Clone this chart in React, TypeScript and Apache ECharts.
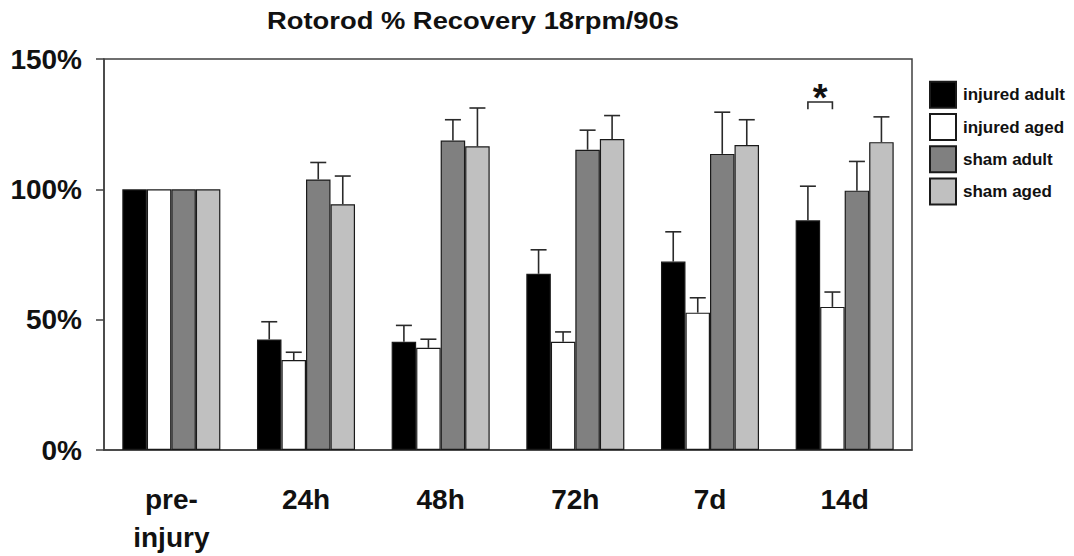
import React, { useEffect, useRef } from "react";
import * as echarts from "echarts";

// Time points after injury
const categories = ["pre-\ninjury", "24h", "48h", "72h", "7d", "14d"];

// Mean rotarod performance (% of pre-injury baseline)
const injuredAdult = [100, 42.4, 41.5, 67.6, 72.3, 88.1];
const injuredAged = [100, 34.5, 39.2, 41.5, 52.7, 54.9];
const shamAdult = [100, 103.8, 118.7, 115.2, 113.6, 99.5];
const shamAged = [100, 94.3, 116.5, 119.3, 117.0, 118.1];

// Standard error (upward whiskers only)
const injuredAdultErr = [0, 6.8, 6.3, 9.2, 11.4, 13.1];
const injuredAgedErr = [0, 3.0, 3.3, 3.8, 5.7, 5.7];
const shamAdultErr = [0, 6.5, 8.0, 7.5, 16.0, 11.2];
const shamAgedErr = [0, 10.8, 14.7, 9.0, 9.7, 9.7];

const seriesNames = ["injured adult", "injured aged", "sham adult", "sham aged"];
const yTicks = [0, 50, 100, 150];

// Significance marker: [category index, left bar, right bar, bracket top, leg bottom]
const significance = [[5, 0, 1, 133.5, 130.7]];

const FONT = "'Liberation Sans', Arial, sans-serif";
const CAT_GAP = 0.272;

export default function App() {
  const ref = useRef<HTMLDivElement>(null);

  useEffect(() => {
    if (!ref.current) return;
    const chart = echarts.init(ref.current, undefined, { renderer: "svg" });

    const means = [injuredAdult, injuredAged, shamAdult, shamAged];
    const errs = [injuredAdultErr, injuredAgedErr, shamAdultErr, shamAgedErr];
    const colors = ["#000000", "#ffffff", "#808080", "#c0c0c0"];

    const errData: number[][] = [];
    means.forEach((arr, k) => {
      arr.forEach((v, c) => {
        if (errs[k][c] > 0) errData.push([c, k, v, errs[k][c]]);
      });
    });

    const barSeries = means.map((arr, k) => ({
      name: seriesNames[k],
      type: "bar",
      data: arr,
      barGap: "0%",
      barCategoryGap: CAT_GAP * 100 + "%",
      itemStyle: { color: colors[k], borderColor: "#1a1a1a", borderWidth: 1.2 },
      z: 2,
    }));

    const barCenter = (api: any, cat: number, k: number) => {
      const band = api.size([1, 0])[0];
      const bw = (band * (1 - CAT_GAP)) / 4;
      return api.coord([cat, 0])[0] + (k - 1.5) * bw;
    };

    chart.setOption({
      animation: false,
      backgroundColor: "#ffffff",
      graphic: [
        {
          type: "text",
          x: 473,
          y: 21,
          scaleX: 1.19,
          style: {
            text: "Rotorod % Recovery 18rpm/90s",
            font: `bold 23px ${FONT}`,
            fill: "#111111",
            align: "center",
            verticalAlign: "middle",
          },
        },
      ],
      legend: {
        orient: "vertical",
        left: 929,
        top: 80.7,
        padding: 0,
        itemWidth: 26,
        itemHeight: 26,
        itemGap: 4.3,
        icon: "rect",
        selectedMode: false,
        data: seriesNames,
        textStyle: {
          fontFamily: FONT,
          fontWeight: "bold",
          fontSize: 17,
          color: "#111111",
          padding: [0, 0, 0, 2],
        },
      },
      grid: {
        left: 104,
        right: 162,
        top: 59,
        bottom: 102.7,
        show: true,
        borderColor: "#404040",
        borderWidth: 1.5,
      },
      xAxis: {
        type: "category",
        data: categories,
        axisLine: { lineStyle: { color: "#404040", width: 1.5 } },
        axisTick: { length: 10, interval: 0, lineStyle: { color: "#404040", width: 1.5 } },
        axisLabel: {
          interval: 0,
          margin: 30,
          fontFamily: FONT,
          fontWeight: "bold",
          fontSize: 28,
          lineHeight: 38,
          color: "#111111",
        },
      },
      yAxis: {
        type: "value",
        min: yTicks[0],
        max: yTicks[yTicks.length - 1],
        interval: 50,
        splitLine: { show: false },
        axisLine: { show: true, lineStyle: { color: "#404040", width: 1.5 } },
        axisTick: { show: true, length: 8, lineStyle: { color: "#404040", width: 1.5 } },
        axisLabel: {
          margin: 22,
          formatter: "{value}%",
          fontFamily: FONT,
          fontWeight: "bold",
          fontSize: 28,
          color: "#111111",
        },
      },
      series: [
        ...barSeries,
        {
          type: "custom",
          data: errData,
          encode: { x: 0, y: 2 },
          z: 3,
          renderItem: (_params: any, api: any) => {
            const cat = api.value(0);
            const k = api.value(1);
            const v = api.value(2);
            const e = api.value(3);
            const cx = barCenter(api, cat, k);
            const yBase = api.coord([cat, v])[1];
            const yTop = api.coord([cat, v + e])[1];
            const style = { stroke: "#2a2a2a", lineWidth: 1.6 };
            return {
              type: "group",
              children: [
                { type: "line", shape: { x1: cx, y1: yBase, x2: cx, y2: yTop }, style },
                { type: "line", shape: { x1: cx - 8, y1: yTop, x2: cx + 8, y2: yTop }, style },
              ],
            };
          },
        },
        {
          type: "custom",
          data: significance,
          encode: { x: 0, y: 3 },
          z: 3,
          renderItem: (_params: any, api: any) => {
            const cat = api.value(0);
            const x0 = barCenter(api, cat, api.value(1));
            const x1 = barCenter(api, cat, api.value(2));
            const yTop = api.coord([cat, api.value(3)])[1];
            const yLeg = api.coord([cat, api.value(4)])[1];
            return {
              type: "group",
              children: [
                {
                  type: "polyline",
                  shape: { points: [[x0, yLeg], [x0, yTop], [x1, yTop], [x1, yLeg]] },
                  style: { stroke: "#2a2a2a", lineWidth: 1.6, fill: null },
                },
                {
                  type: "text",
                  x: (x0 + x1) / 2,
                  y: yTop + 15,
                  style: {
                    text: "*",
                    font: `bold 38px ${FONT}`,
                    fill: "#111111",
                    align: "center",
                    verticalAlign: "bottom",
                  },
                },
              ],
            };
          },
        },
      ],
    });

    return () => chart.dispose();
  }, []);

  return (
    <div
      ref={ref}
      style={{ position: "fixed", left: 0, top: 0, width: 1074, height: 556 }}
    />
  );
}
